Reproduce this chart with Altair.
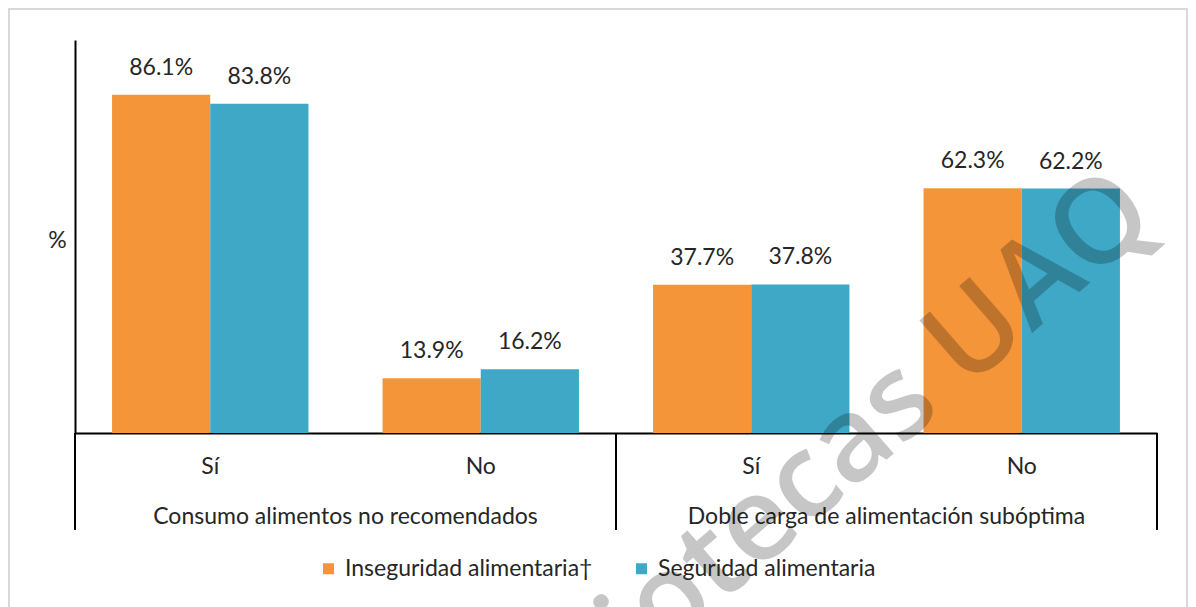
import altair as alt
import pandas as pd

groups = ["Consumo alimentos no recomendados", "Doble carga de alimentación subóptima"]
answers = ["Sí", "No"]
series = ["Inseguridad alimentaria†", "Seguridad alimentaria"]
inseguridad = [86.1, 13.9, 37.7, 62.3]
seguridad = [83.8, 16.2, 37.8, 62.2]
colors = ["#F5953A", "#3EA8C6"]
boundaries = [0, 1, 2]
watermark = ["Bibliotecas UAQ"]

FONT = "Lato"
TXT = "#262626"
FS = 23

rows, cats, sub_rows = [], [], []
i = 0
for g in groups:
    for a in answers:
        key = f"{g}|{a}"
        cats.append(key)
        sub_rows.append(dict(cat=key, answer=a))
        rows.append(dict(cat=key, series=series[0], value=inseguridad[i]))
        rows.append(dict(cat=key, series=series[1], value=seguridad[i]))
        i += 1
df = pd.DataFrame(rows)
df["label"] = df["value"].map(lambda v: f"{v:.1f}%")
df_sub = pd.DataFrame(sub_rows)
df_groups = pd.DataFrame({"group": groups})
df_bounds = pd.DataFrame({"b": boundaries})
df_wm = pd.DataFrame({"wm": watermark})
df_one = pd.DataFrame({"k": [0]})

x_enc = alt.X("cat:N", sort=cats,
              scale=alt.Scale(paddingInner=0.274, paddingOuter=0.137),
              axis=alt.Axis(labels=False, ticks=False, title=None, grid=False,
                            domainColor="black", domainWidth=2))
y_enc = alt.Y("value:Q", scale=alt.Scale(domain=[0, 100], nice=False),
              axis=alt.Axis(labels=False, ticks=False, grid=False, title="%",
                            titleAngle=0, titleX=-18, titleY=200, titleFontSize=FS,
                            titleFontWeight="normal", titleFont=FONT, titleColor=TXT,
                            titleAlign="center", titleBaseline="middle",
                            domainColor="black", domainWidth=2))
xoff = alt.XOffset("series:N", sort=series)

bars = alt.Chart(df).mark_bar().encode(
    x=x_enc, xOffset=xoff, y=y_enc,
    color=alt.Color("series:N", sort=series,
                    scale=alt.Scale(domain=series, range=colors),
                    legend=alt.Legend(orient="none", legendX=242, legendY=517,
                                      direction="horizontal", title=None,
                                      symbolType="square", symbolSize=121,
                                      symbolStrokeWidth=0, labelFontSize=FS,
                                      labelFont=FONT, labelColor=TXT, labelLimit=0,
                                      columnPadding=37, labelOffset=5)),
)

vals = alt.Chart(df).mark_text(dy=-20, baseline="alphabetic", fontSize=FS,
                               font=FONT, color=TXT).encode(
    x=x_enc, xOffset=xoff, y=y_enc, text="label:N")

subl = alt.Chart(df_sub).mark_text(baseline="middle", fontSize=FS, font=FONT,
                                   color=TXT).encode(
    x=x_enc, y=alt.value(427), text="answer:N")

inner = alt.layer(bars, vals, subl)

grp = alt.Chart(df_groups).mark_text(baseline="middle", fontSize=FS, font=FONT,
                                     color=TXT).encode(
    x=alt.X("group:N", sort=groups,
            scale=alt.Scale(paddingInner=0, paddingOuter=0), axis=None),
    y=alt.value(477), text="group:N")

seps = alt.Chart(df_bounds).mark_rule(color="black", strokeWidth=2).encode(
    x=alt.X("b:Q", scale=alt.Scale(domain=[0, 2], nice=False, zero=False), axis=None),
    y=alt.value(393), y2=alt.value(490))

wm = alt.Chart(df_wm).mark_text(angle=319, align="right", baseline="alphabetic",
                                fontSize=117, font="Open Sans", fontWeight=600,
                                color="black", opacity=0.22).encode(
    x=alt.value(1085), y=alt.value(182), text="wm:N")

border = alt.Chart(df_one).mark_rect(fillOpacity=0, stroke="#D9D9D9",
                                     strokeWidth=2).encode(
    x=alt.value(-66), x2=alt.value(1112), y=alt.value(-31), y2=alt.value(620))

chart = alt.layer(border, inner, grp, seps, wm).resolve_scale(
    x="independent"
).properties(
    width=1082, height=393,
    padding={"left": 67, "top": 32, "right": 31, "bottom": 174},
    autosize=alt.AutoSizeParams(type="none"),
).configure(font=FONT, view=alt.ViewConfig(stroke=None))

chart.save("out.html", embed_options={"renderer": "svg", "actions": False})
